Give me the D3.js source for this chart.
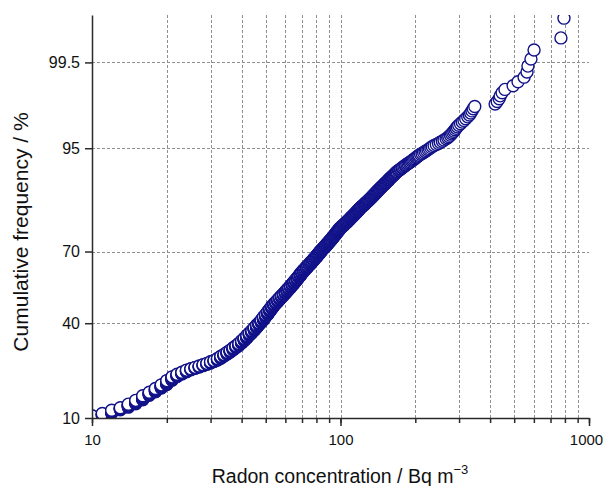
<!DOCTYPE html>
<html>
<head>
<meta charset="utf-8">
<script src="https://cdn.jsdelivr.net/npm/d3@7"></script>
<style>
	body { margin: 0; background: #fff; }
	text { font-family: "Liberation Sans", Arial, Helvetica, sans-serif; }
</style>
</head>
<body>
<div id="chart"></div>
<script>
// measurements under 10 Bq m-3 : they count for the rank but fall off the plot
var belowRangeCount = 89;

// number of dwellings per whole Bq m-3, starting at 10 Bq m-3
var firstCountedBq = 10;
var countsPerBq = [
	4,4,6,5,7,8,10,8,9,9,11,10,          // 10-21
	7,6,6, 4,4,4,4, 4,5,4, 6,7,6,         // 22-34
	7,7,8,7,8, 9,9,10,9,9, 10,10,9,10,    // 35-48
	11,10,11,11,10, 9,8,8,8,8,7,8,        // 49-60
	8,7,8,7,8,7,8,7,8,7,                  // 61-70
	6,6,6,5,6,6,5,6,5,6,5,6,5,            // 71-83
	5,4,5,4,5,4,5,4,4,5,4,4,5,4,4,4,      // 84-99
	3,3,2,3,3,2,3,3,2,3,3,2,3,2,3,2,3,2,2,3,          // 100-119
	2,2,2,1,2,2,2,2,1,2,2,2,1,2,2,1,2,2,1,2,2,1,2,1,2, // 120-144
	1,1,2,1,1,1,2,1,1,1,1,2,1,1,1,1,1,1,1,1,1,1,1,1,1  // 145-169
];

// single readings above 170 Bq m-3
var upperConc = [171,172,174,175,177,178,180,182,183,185,187,189,191,193,195,197,199,201,203,205,207,
	210,213,216,219,222,225,228,231,234, 238,243,248,252,257,261,266,
	270,273,277,280,283,286,289,292,295, 299,304,309,314,319, 325,330,334,338,342,347,
	419,427,435,439,447,459,495,518,548,563,568,584,601,771,793];

var xMajorTicks = [10, 100, 1000];
var xTickLabels = ["10", "100", "1000"];
var yTicks = [10, 40, 70, 95, 99.5];
var yTickLabels = ["10", "40", "70", "95", "99.5"];
var yLimits = [10, 99.9];

// inverse normal cdf (Acklam) for the probability axis
function probit(p) {
	var a = [-3.969683028665376e+01, 2.209460984245205e+02, -2.759285104469687e+02, 1.383577518672690e+02, -3.066479806614716e+01, 2.506628277459239e+00];
	var b = [-5.447609879822406e+01, 1.615858368580409e+02, -1.556989798598866e+02, 6.680131188771972e+01, -1.328068155288572e+01];
	var c = [-7.784894002430293e-03, -3.223964580411365e-01, -2.400758277161838e+00, -2.549732539343734e+00, 4.374664141464968e+00, 2.938163982698783e+00];
	var d = [7.784695709041462e-03, 3.224671290700398e-01, 2.445134137142996e+00, 3.754408661907416e+00];
	var q, r;
	if (p < 0.02425) {
		q = Math.sqrt(-2 * Math.log(p));
		return (((((c[0]*q+c[1])*q+c[2])*q+c[3])*q+c[4])*q+c[5]) / ((((d[0]*q+d[1])*q+d[2])*q+d[3])*q+1);
	}
	if (p > 1 - 0.02425) {
		q = Math.sqrt(-2 * Math.log(1 - p));
		return -(((((c[0]*q+c[1])*q+c[2])*q+c[3])*q+c[4])*q+c[5]) / ((((d[0]*q+d[1])*q+d[2])*q+d[3])*q+1);
	}
	q = p - 0.5; r = q * q;
	return (((((a[0]*r+a[1])*r+a[2])*r+a[3])*r+a[4])*r+a[5])*q / (((((b[0]*r+b[1])*r+b[2])*r+b[3])*r+b[4])*r+1);
}

// sorted samples -> cumulative frequency from rank
var conc = [];
countsPerBq.forEach((k, i) => {
	for (var j = 0; j < k; j++) conc.push(firstCountedBq + i);
});
conc = conc.concat(upperConc);
var n = belowRangeCount + conc.length;
var points = conc.map((c, i) => ({ c: c, p: (belowRangeCount + i + 1) / (n + 1) }));

var W = 604, H = 486;
var margin = { top: 15, right: 15, bottom: 68, left: 92 };

var svg = d3.select("#chart")
	.append("svg")
	.attr("width", W)
	.attr("height", H);

var x = d3.scaleLog()
	.domain([10, 1000])
	.range([margin.left, W - margin.right]);

var y = d3.scaleLinear()
	.domain(yLimits.map(v => probit(v / 100)))
	.range([H - margin.bottom, margin.top]);

var x0 = margin.left, x1 = W - margin.right;
var y0 = H - margin.bottom, y1 = margin.top;

// grid
var grid = svg.append("g")
	.attr("stroke", "#8f8f8f")
	.attr("stroke-width", 1)
	.attr("stroke-dasharray", "3,2");

grid.selectAll(".vgrid")
	.data(x.ticks().filter(d => d > 10 && d < 1000))
	.enter()
	.append("line")
	.attr("class", "vgrid")
	.attr("x1", d => Math.round(x(d)) + 0.5)
	.attr("x2", d => Math.round(x(d)) + 0.5)
	.attr("y1", y1)
	.attr("y2", y0);

grid.selectAll(".hgrid")
	.data(yTicks.slice(1))
	.enter()
	.append("line")
	.attr("class", "hgrid")
	.attr("x1", x0)
	.attr("x2", x1)
	.attr("y1", d => Math.round(y(probit(d / 100))) + 0.5)
	.attr("y2", d => Math.round(y(probit(d / 100))) + 0.5);

// points
svg.append("clipPath")
	.attr("id", "plotclip")
	.append("rect")
	.attr("x", x0)
	.attr("y", y1)
	.attr("width", x1 - x0)
	.attr("height", y0 - y1);

svg.append("g")
	.attr("clip-path", "url(#plotclip)")
	.selectAll("circle")
	.data(points)
	.enter()
	.append("circle")
	.attr("cx", d => x(d.c))
	.attr("cy", d => y(probit(d.p)))
	.attr("r", 6)
	.attr("fill", "#fff")
	.attr("stroke", "#12128a")
	.attr("stroke-width", 1.4);

// axes
var axisColor = "#2a2a2a";

svg.append("g")
	.attr("transform", "translate(0," + y0 + ")")
	.call(d3.axisBottom(x).tickValues(x.ticks()).tickSize(5).tickSizeOuter(0).tickFormat(""))
	.call(g => g.select(".domain").remove());

var xAxis = svg.append("g")
	.attr("transform", "translate(0," + y0 + ")")
	.call(d3.axisBottom(x)
		.tickValues(xMajorTicks)
		.tickSize(8)
		.tickSizeOuter(0)
		.tickPadding(8)
		.tickFormat((d, i) => xTickLabels[i]));

var yAxis = svg.append("g")
	.attr("transform", "translate(" + x0 + ",0)")
	.call(d3.axisLeft(y)
		.tickValues(yTicks.map(v => probit(v / 100)))
		.tickSize(7)
		.tickSizeOuter(0)
		.tickPadding(5)
		.tickFormat((d, i) => yTickLabels[i]));

svg.selectAll(".tick line, .domain")
	.attr("stroke", axisColor)
	.attr("stroke-width", 1.5);

[xAxis, yAxis].forEach(g => {
	g.attr("font-family", null).attr("font-size", null);
	g.selectAll("text")
		.style("font-size", "16px")
		.attr("fill", "#111");
});
xAxis.selectAll("text").style("font-size", "15px");
// last label sits at the right edge, pull it in a little
xAxis.selectAll("text").filter(d => d === 1000).attr("dx", -3);

// axis titles
svg.append("text")
	.attr("transform", "translate(28," + 232 + ") rotate(-90)")
	.style("font-size", "21px")
	.style("text-anchor", "middle")
	.attr("fill", "#111")
	.text("Cumulative frequency / %");

var xt = svg.append("text")
	.attr("x", 340)
	.attr("y", 483)
	.style("font-size", "19.5px")
	.style("text-anchor", "middle")
	.attr("fill", "#111");
xt.append("tspan").text("Radon concentration / Bq m");
xt.append("tspan")
	.attr("dy", -9)
	.style("font-size", "13px")
	.text("\u22123");
</script>
</body>
</html>
